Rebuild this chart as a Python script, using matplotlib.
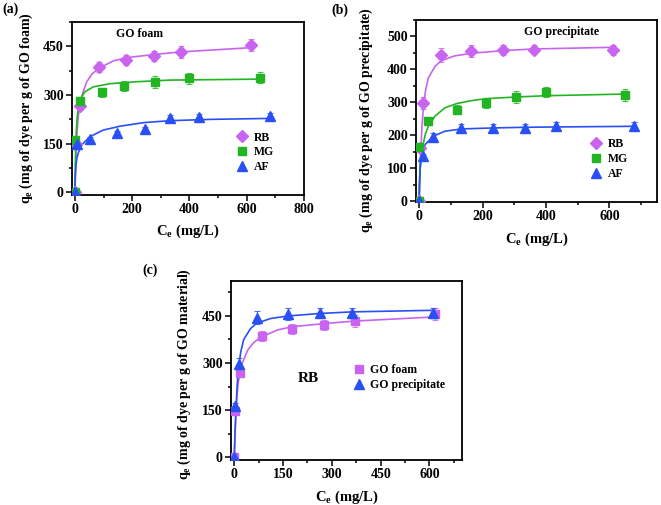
import matplotlib

matplotlib.use("Agg")
import matplotlib.pyplot as plt
from matplotlib.ticker import MultipleLocator

plt.rcParams["font.family"] = "Liberation Serif"
plt.rcParams["font.weight"] = "bold"
plt.rcParams["axes.labelweight"] = "bold"
plt.rcParams["mathtext.fontset"] = "custom"
plt.rcParams["mathtext.rm"] = "Liberation Serif:bold"
plt.rcParams["mathtext.it"] = "Liberation Serif:bold"
plt.rcParams["mathtext.bf"] = "Liberation Serif:bold"

VIOLET = "#C864F0"
GREEN = "#22B422"
BLUE = "#2850F5"

# (a) GO foam -- measured points (Ce mg/L, qe mg/g, error)
A_RB_C = [0, 3, 18, 85, 179, 277, 372, 616]
A_RB_Q = [0, 149, 267, 386, 407, 420, 433, 455]
A_RB_ERR = [0, 8, 12, 15, 15, 15, 18, 18]
A_MG_C = [0, 0, 17.5, 93, 173, 281, 398, 647]
A_MG_Q = [0, 162, 282, 308, 327, 341, 351, 354]
A_MG_ERR = [0, 8, 12, 15, 15, 18, 18, 18]
A_AF_C = [0, 6, 53, 148, 244, 333, 432, 682]
A_AF_Q = [0, 149, 165, 182, 194, 228, 231, 236]
A_AF_ERR = [0, 5, 6, 8, 8, 10, 10, 10]

# (a) fitted isotherm lines
A_RB_FIT_C = [0, 2, 5, 8, 12, 17.5, 25, 41, 60, 85, 134, 179, 277, 372, 616]
A_RB_FIT_Q = [0, 60, 135, 192, 235, 269, 300, 340, 365, 383, 405, 415, 425, 433, 446]
A_MG_FIT_C = [0, 2, 5, 8, 12, 17.5, 25, 35, 64, 123, 216, 333, 647]
A_MG_FIT_Q = [0, 110, 190, 230, 260, 279, 296, 310, 325, 335, 341, 346, 349]
A_AF_FIT_C = [0, 1.5, 3.5, 7, 11.7, 20, 29, 53, 99, 158, 240, 333, 474, 682]
A_AF_FIT_Q = [0, 45, 80, 105, 121, 140, 151, 172, 192, 204, 215, 221, 225, 228]

# (b) GO precipitate
B_RB_C = [0, 3, 13.5, 69, 165, 264, 362, 610]
B_RB_Q = [0, 162, 298, 444, 455, 458, 460, 458]
B_RB_ERR = [0, 10, 18, 22, 18, 15, 13, 15]
B_MG_C = [0, 0, 29, 118, 211, 305, 401, 649]
B_MG_Q = [0, 164, 244, 278, 298, 315, 331, 323]
B_MG_ERR = [0, 8, 12, 15, 15, 18, 15, 18]
B_AF_C = [0, 13.5, 45, 133, 234, 333, 432, 677]
B_AF_Q = [0, 136, 195, 222, 222, 222, 227, 229]
B_AF_ERR = [0, 8, 12, 12, 12, 12, 12, 12]

B_RB_FIT_C = [0, 2, 5, 9, 13.5, 20, 29, 50, 69, 112, 165, 264, 362, 610]
B_RB_FIT_Q = [0, 70, 146, 230, 288, 335, 374, 409, 426, 441, 449, 457, 462, 467]
B_MG_FIT_C = [0, 1, 3, 7, 13.5, 20, 29, 50, 81, 118, 165, 211, 305, 401, 649]
B_MG_FIT_Q = [0, 60, 116, 150, 177, 205, 227, 258, 283, 296, 305, 311, 316, 320, 325]
B_AF_FIT_C = [0, 1, 3, 8, 19, 45, 81, 133, 234, 333, 432, 677]
B_AF_FIT_Q = [0, 45, 96, 136, 172, 197, 212, 219, 222, 224, 225, 227]

W, H = 661, 505


def frame(l, t, r, b):
    # pixel box -> figure fraction
    return [l / W, 1 - b / H, (r - l) / W, (b - t) / H]


def style(ax, xlim, ylim, xmaj, ymaj):
    ax.set_xlim(*xlim)
    ax.set_ylim(*ylim)
    ax.xaxis.set_major_locator(MultipleLocator(xmaj))
    ax.xaxis.set_minor_locator(MultipleLocator(xmaj / 2))
    ax.yaxis.set_major_locator(MultipleLocator(ymaj))
    ax.yaxis.set_minor_locator(MultipleLocator(ymaj / 2))
    ax.tick_params(which="both", direction="out", width=1.1, labelsize=10, pad=2)
    ax.tick_params(which="major", length=4)
    ax.tick_params(which="minor", length=2.5)
    for s in ax.spines.values():
        s.set_linewidth(1.3)
    ax.set_xlabel("C$_e$ (mg/L)", fontsize=10.5)
    ax.xaxis.set_label_coords(0.5, -0.16)


def series(ax, c, q, err, fc, fq, color, marker, ms, label):
    ax.plot(fc, fq, color=color, lw=1.2, zorder=2)
    ax.errorbar(c, q, yerr=err, fmt="none", ecolor=color, elinewidth=0.8,
                capsize=2.5, capthick=0.8, alpha=0.8, zorder=3)
    ax.plot(c, q, ls="none", marker=marker, ms=ms, color=color, mec=color,
            label=label, zorder=4)


def legend(ax, anchor):
    ax.legend(loc="upper left", bbox_to_anchor=anchor, frameon=False,
              fontsize=8.5, handlelength=1.2, handletextpad=0.4,
              labelspacing=0.25, borderpad=0, borderaxespad=0)


fig = plt.figure(figsize=(W / 100, H / 100), dpi=100)

# (a)
ax = fig.add_axes(frame(72, 22, 304, 195))
series(ax, A_RB_C, A_RB_Q, A_RB_ERR, A_RB_FIT_C, A_RB_FIT_Q, VIOLET, "D", 6, "RB")
series(ax, A_MG_C, A_MG_Q, A_MG_ERR, A_MG_FIT_C, A_MG_FIT_Q, GREEN, "s", 5.5, "MG")
series(ax, A_AF_C, A_AF_Q, A_AF_ERR, A_AF_FIT_C, A_AF_FIT_Q, BLUE, "^", 6.5, "AF")
style(ax, (-10, 800), (-8, 525), 200, 150)
ax.set_ylabel("q$_e$ (mg of dye per g of GO foam)", fontsize=10)
ax.yaxis.set_label_coords(-0.16, 0.5)
ax.text(0.19, 0.93, "GO foam", transform=ax.transAxes, fontsize=8.5, va="center")
legend(ax, (0.703, 0.367))

# (b)
ax = fig.add_axes(frame(416, 20, 657, 202))
series(ax, B_RB_C, B_RB_Q, B_RB_ERR, B_RB_FIT_C, B_RB_FIT_Q, VIOLET, "D", 6, "RB")
series(ax, B_MG_C, B_MG_Q, B_MG_ERR, B_MG_FIT_C, B_MG_FIT_Q, GREEN, "s", 5.5, "MG")
series(ax, B_AF_C, B_AF_Q, B_AF_ERR, B_AF_FIT_C, B_AF_FIT_Q, BLUE, "^", 6.5, "AF")
style(ax, (-10, 750), (-3, 550), 200, 100)
ax.set_ylabel("q$_e$ (mg of dye per g of GO precipitate)", fontsize=10)
ax.yaxis.set_label_coords(-0.17, 0.45)
ax.text(0.45, 0.935, "GO precipitate", transform=ax.transAxes, fontsize=8.5, va="center")
legend(ax, (0.717, 0.35))

# (c)
ax = fig.add_axes(frame(231, 281, 462, 460))
series(ax, A_RB_C, A_RB_Q, A_RB_ERR, A_RB_FIT_C, A_RB_FIT_Q, VIOLET, "s", 5.5, "GO foam")
series(ax, B_RB_C, B_RB_Q, B_RB_ERR, B_RB_FIT_C, B_RB_FIT_Q, BLUE, "^", 6.5, "GO precipitate")
style(ax, (-10, 700), (-8, 560), 150, 150)
ax.set_ylabel("q$_e$ (mg of dye per g of GO material)", fontsize=10)
ax.yaxis.set_label_coords(-0.165, 0.48)
ax.text(0.29, 0.455, "RB", transform=ax.transAxes, fontsize=11, va="center")
legend(ax, (0.522, 0.537))

fig.text(2 / W, 1 - 9 / H, "(a)", fontsize=10, va="center")
fig.text(331 / W, 1 - 10 / H, "(b)", fontsize=10, va="center")
fig.text(142 / W, 1 - 270 / H, "(c)", fontsize=10, va="center")

fig.savefig("out.png", dpi=100)
